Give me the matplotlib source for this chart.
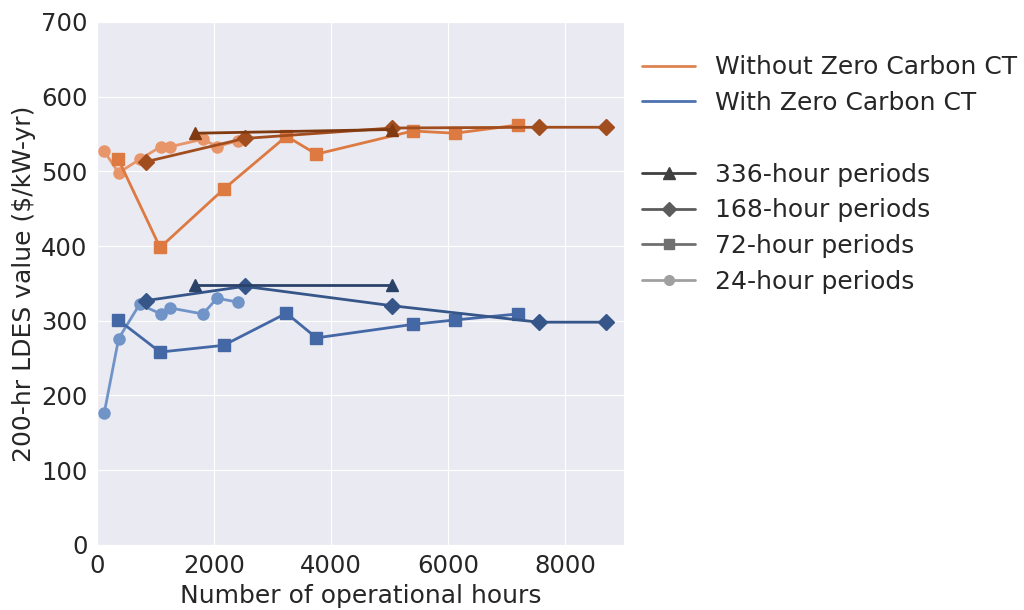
import numpy as np
import matplotlib
matplotlib.use("Agg")
import matplotlib.pyplot as plt
import seaborn as sns
from matplotlib.lines import Line2D

sns.set_style("darkgrid")
plt.rcParams["font.family"] = ["DejaVu Sans"]

# ---- data ----
# Without zero carbon CT
wo_24_x = [118, 365, 724, 1088, 1247, 1806, 2047, 2400]
wo_24_y = [527, 498, 516, 533, 533, 543, 533, 541]
wo_72_x = [360, 1074, 2160, 3235, 3747, 5394, 6118, 7188]
wo_72_y = [516, 398, 476, 547, 523, 554, 551, 562]
wo_168_x = [841, 2518, 5041, 7547, 8706]
wo_168_y = [513, 544, 558, 559, 559]
wo_336_x = [1676, 5041]
wo_336_y = [551, 556]

# With zero carbon CT
w_24_x = [118, 365, 724, 1088, 1247, 1806, 2047, 2400]
w_24_y = [176, 276, 322, 309, 317, 309, 330, 325]
w_72_x = [360, 1074, 2160, 3235, 3747, 5394, 6118, 7188]
w_72_y = [301, 258, 267, 310, 277, 295, 301, 309]
w_168_x = [841, 2518, 5041, 7547, 8706]
w_168_y = [327, 346, 320, 298, 298]
w_336_x = [1676, 5041]
w_336_y = [348, 348]

orange_shades = {"24": "#E8956A", "72": "#DD7A42", "168": "#A24D1E", "336": "#803A12"}
blue_shades = {"24": "#7094C8", "72": "#4468A5", "168": "#365689", "336": "#2B4268"}
markers = {"24": "o", "72": "s", "168": "D", "336": "^"}
msize = {"24": 8, "72": 8, "168": 8.5, "336": 8.5}

fig = plt.figure(figsize=(10.24, 6.1), dpi=100)
ax = fig.add_axes([0.095, 0.107, 0.514, 0.857])

wo = {"24": (wo_24_x, wo_24_y), "72": (wo_72_x, wo_72_y),
      "168": (wo_168_x, wo_168_y), "336": (wo_336_x, wo_336_y)}
wi = {"24": (w_24_x, w_24_y), "72": (w_72_x, w_72_y),
      "168": (w_168_x, w_168_y), "336": (w_336_x, w_336_y)}

for k in ["24", "72", "168", "336"]:
    x, y = wo[k]
    ax.plot(x, y, marker=markers[k], color=orange_shades[k], lw=2, ms=msize[k])
for k in ["24", "72", "168", "336"]:
    x, y = wi[k]
    ax.plot(x, y, marker=markers[k], color=blue_shades[k], lw=2, ms=msize[k])

ax.set_xlim(0, 9000)
ax.set_ylim(0, 700)
ax.set_xticks([0, 2000, 4000, 6000, 8000])
ax.set_yticks(np.arange(0, 701, 100))
ax.tick_params(labelsize=17.5)
ax.set_xlabel("Number of operational hours", fontsize=18)
ax.set_ylabel("200-hr LDES value ($/kW-yr)", fontsize=18)

handles = [
    Line2D([], [], color="#DD8452", lw=2, label="Without Zero Carbon CT"),
    Line2D([], [], color="#4C72B0", lw=2, label="With Zero Carbon CT"),
    Line2D([], [], color="none", label=" "),
    Line2D([], [], color="#404040", lw=2, marker="^", ms=8, label="336-hour periods"),
    Line2D([], [], color="#5c5c5c", lw=2, marker="D", ms=7, label="168-hour periods"),
    Line2D([], [], color="#707070", lw=2, marker="s", ms=7, label="72-hour periods"),
    Line2D([], [], color="#a0a0a0", lw=2, marker="o", ms=7, label="24-hour periods"),
]
ax.legend(handles=handles, loc="upper left", bbox_to_anchor=(0.993, 0.979),
          frameon=False, fontsize=18, handlelength=2.1, labelspacing=0.47)

fig.savefig("out.png", dpi=100)
